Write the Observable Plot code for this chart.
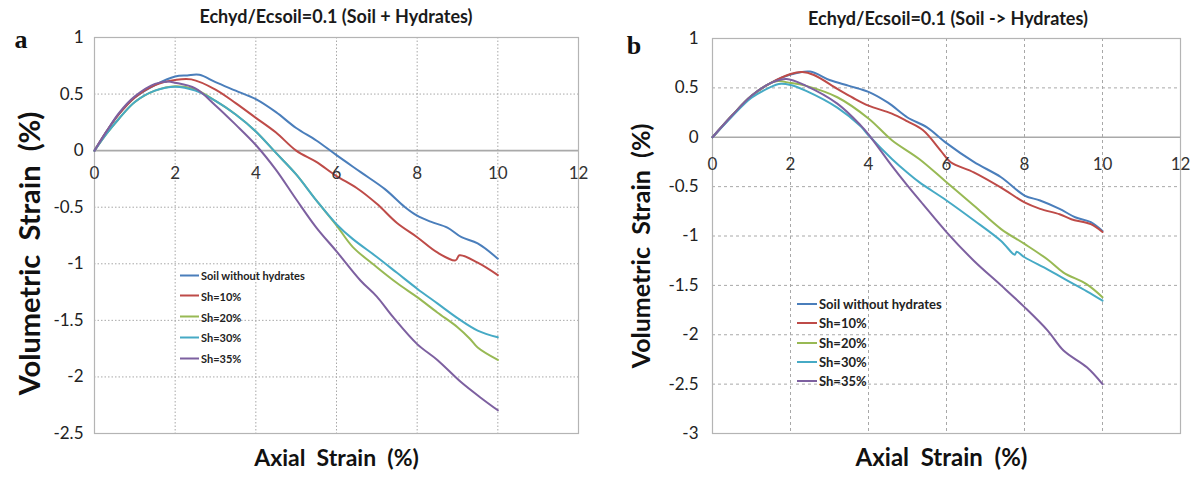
<!DOCTYPE html>
<html>
<head>
<meta charset="utf-8">
<script src="https://cdn.jsdelivr.net/npm/d3@7"></script>
<script src="https://cdn.jsdelivr.net/npm/@observablehq/plot@0.6"></script>
<style>
  body { margin: 0; background: #fff; font-family: Lato, "Open Sans", sans-serif; }
  #wrap { position: relative; width: 1197px; height: 480px; overflow: hidden; background: #fff; }
  .panel { position: absolute; top: 0; }
  .title { position: absolute; font-weight: bold; white-space: nowrap; transform: translate(-50%, -50%); color: #1a1a1a; }
  .tag { position: absolute; font-family: "Liberation Serif", "DejaVu Serif", serif; font-weight: bold; transform: translate(-50%, -50%); color: #111; }
  .legend { position: absolute; }
  .legend .row { position: absolute; left: 0; display: flex; align-items: center; white-space: nowrap; font-weight: bold; color: #222; transform: translateY(-50%); }
  .legend .sw { display: inline-block; height: 2px; margin-right: 2px; }
</style>
</head>
<body>
<div id="wrap"></div>
<script>
// ---------- data ----------
const seriesNames = ["Soil without hydrates", "Sh=10%", "Sh=20%", "Sh=30%", "Sh=35%"];
const seriesColors = ["#4A7EBB", "#BE4B48", "#98B954", "#46AAC5", "#7D60A0"];
const xTicks = [0, 2, 4, 6, 8, 10, 12];
const yTicksA = [-2.5, -2, -1.5, -1, -0.5, 0, 0.5, 1];
const yTicksB = [-3, -2.5, -2, -1.5, -1, -0.5, 0, 0.5, 1];

const titleA = "Echyd/Ecsoil=0.1 (Soil + Hydrates)";
const titleB = "Echyd/Ecsoil=0.1 (Soil -> Hydrates)";
const xLabel = "Axial\u00a0 Strain\u00a0 (%)";
const yLabel = "Volumetric\u00a0 Strain\u00a0 (%)";

// panel a : [axial strain %, volumetric strain %]
const aSoil = [[0,0],[0.3,0.17],[0.6,0.32],[1.0,0.47],[1.5,0.58],[2.0,0.655],[2.3,0.665],[2.6,0.67],[3.0,0.605],[3.5,0.53],[4.0,0.455],[4.5,0.34],[5.0,0.2],[5.5,0.09],[6.0,-0.04],[6.6,-0.19],[7.2,-0.34],[7.7,-0.5],[8.0,-0.575],[8.35,-0.63],[8.75,-0.68],[9.1,-0.765],[9.5,-0.82],[10,-0.955]];
const aSh10 = [[0,0],[0.3,0.17],[0.6,0.32],[1.0,0.47],[1.5,0.58],[2.0,0.625],[2.4,0.63],[3.0,0.54],[3.5,0.42],[4.0,0.29],[4.5,0.16],[5.0,0.0],[5.5,-0.1],[6.0,-0.225],[6.5,-0.33],[7.0,-0.47],[7.5,-0.64],[8.0,-0.765],[8.5,-0.9],[8.95,-0.97],[9.05,-0.925],[9.5,-0.99],[10,-1.1]];
const aSh20 = [[0,0],[0.3,0.15],[0.6,0.28],[1.0,0.43],[1.5,0.53],[2.0,0.57],[2.5,0.54],[3.0,0.44],[3.5,0.32],[4.0,0.17],[4.5,-0.02],[5.0,-0.21],[5.5,-0.44],[6.0,-0.66],[6.4,-0.85],[7.0,-1.03],[7.5,-1.17],[8.0,-1.295],[8.5,-1.43],[9.0,-1.56],[9.3,-1.66],[9.5,-1.74],[10,-1.85]];
const aSh30 = [[0,0],[0.3,0.15],[0.6,0.28],[1.0,0.43],[1.5,0.53],[2.0,0.565],[2.5,0.53],[3.0,0.44],[3.5,0.32],[4.0,0.17],[4.5,-0.02],[5.0,-0.21],[5.5,-0.44],[6.0,-0.65],[6.4,-0.78],[7.0,-0.94],[7.5,-1.08],[8.0,-1.22],[8.5,-1.35],[9.0,-1.48],[9.5,-1.59],[10,-1.65]];
const aSh35 = [[0,0],[0.3,0.17],[0.6,0.33],[1.0,0.48],[1.5,0.59],[1.8,0.61],[2.0,0.6],[2.5,0.55],[3.0,0.4],[3.5,0.23],[4.0,0.05],[4.5,-0.17],[5.0,-0.43],[5.5,-0.68],[6.0,-0.89],[6.6,-1.15],[7.0,-1.29],[7.4,-1.47],[8.0,-1.71],[8.5,-1.85],[9.1,-2.05],[9.6,-2.19],[10,-2.295]];

// panel b
const bSoil = [[0,0],[0.5,0.22],[1.0,0.42],[1.5,0.55],[2.0,0.635],[2.5,0.665],[3.0,0.58],[3.5,0.52],[4.0,0.46],[4.5,0.35],[5.0,0.2],[5.5,0.1],[6.0,-0.06],[6.7,-0.25],[7.4,-0.405],[8.0,-0.59],[8.4,-0.64],[8.9,-0.725],[9.3,-0.81],[9.7,-0.86],[10,-0.95]];
const bSh10 = [[0,0],[0.5,0.22],[1.0,0.42],[1.5,0.55],[2.0,0.64],[2.3,0.66],[2.6,0.63],[3.2,0.49],[3.6,0.4],[4.0,0.32],[4.6,0.24],[5.0,0.16],[5.4,0.07],[5.85,-0.135],[6.1,-0.25],[6.7,-0.355],[7.4,-0.51],[8.0,-0.66],[8.4,-0.725],[8.9,-0.78],[9.2,-0.83],[9.7,-0.88],[10,-0.96]];
const bSh20 = [[0,0],[0.5,0.22],[1.0,0.42],[1.6,0.565],[2.0,0.55],[2.4,0.52],[3.2,0.405],[4.0,0.19],[4.6,-0.03],[5.3,-0.22],[6.0,-0.455],[6.7,-0.69],[7.4,-0.93],[8.0,-1.08],[8.6,-1.24],[9.0,-1.37],[9.6,-1.49],[10,-1.62]];
const bSh30 = [[0,0],[0.5,0.21],[1.0,0.4],[1.5,0.51],[1.7,0.54],[2.0,0.53],[2.4,0.47],[3.2,0.3],[3.8,0.11],[4.0,0.02],[4.6,-0.22],[5.0,-0.36],[5.3,-0.455],[6.0,-0.64],[6.7,-0.84],[7.4,-1.05],[7.75,-1.19],[7.8,-1.16],[8.0,-1.215],[8.6,-1.34],[9.0,-1.43],[9.6,-1.56],[10,-1.655]];
const bSh35 = [[0,0],[0.5,0.22],[1.0,0.42],[1.5,0.55],[1.9,0.59],[2.4,0.52],[3.2,0.34],[3.8,0.12],[4.0,0.03],[4.6,-0.29],[5.0,-0.49],[5.4,-0.68],[6.0,-0.96],[6.7,-1.25],[7.4,-1.5],[8.0,-1.72],[8.6,-1.96],[9.0,-2.16],[9.6,-2.33],[10,-2.5]];

// ---------- build ----------
function rows(list) {
  return list.flatMap((pts, i) => pts.map(([x, y]) => ({x, y, s: seriesNames[i]})));
}

function panel(o) {
  return Plot.plot({
    width: o.width, height: 480,
    marginLeft: o.ml, marginRight: o.mr, marginTop: o.mt, marginBottom: o.mb,
    x: {domain: [0, 12], axis: null},
    y: {domain: o.yDomain, axis: null},
    color: {domain: seriesNames, range: seriesColors},
    style: {fontFamily: "Lato, sans-serif", background: "white", overflow: "visible"},
    marks: [
      Plot.gridX(xTicks.filter(d => d > 0 && d < 12), {stroke: "#a8a8a8", strokeOpacity: 1, strokeDasharray: o.dash, strokeWidth: 1}),
      Plot.gridY(o.yTicks.filter(d => d !== 0 && d !== o.yDomain[0] && d !== o.yDomain[1]), {stroke: "#a8a8a8", strokeOpacity: 1, strokeDasharray: o.dash, strokeWidth: 1}),
      Plot.frame({stroke: "#b4b4b4", strokeWidth: 1.2}),
      Plot.ruleY([0], {stroke: "#a9a9a9", strokeWidth: 1.6}),
      Plot.line(rows(o.series), {x: "x", y: "y", z: "s", stroke: "s", strokeWidth: 2, curve: "catmull-rom"}),
      Plot.text(xTicks, {x: d => d, y: () => 0, dy: o.xTickDy, fontSize: o.tickSize, fill: "#333"}),
      Plot.axisY(o.yTicks, {tickSize: 0, tickPadding: o.yPad, fontSize: o.tickSize, fill: "#222", tickFormat: d => String(d), label: null}),
      Plot.text([yLabel], {frameAnchor: "left", textAnchor: "middle", dx: o.yLabDx, dy: o.yLabDy, rotate: -90, fontSize: o.yLabSize, fontWeight: "bold", fill: "#111"}),
      Plot.text([xLabel], {frameAnchor: "bottom", textAnchor: "middle", dx: o.xLabDx, dy: 32, fontSize: o.xLabSize, fontWeight: "bold", fill: "#111"})
    ]
  });
}

const wrap = document.getElementById("wrap");

function place(el, left) {
  const d = document.createElement("div");
  d.className = "panel";
  d.style.left = left + "px";
  d.appendChild(el);
  wrap.appendChild(d);
}

place(panel({
  width: 597, ml: 94, mr: 19, mt: 37, mb: 47,
  yDomain: [-2.5, 1], yTicks: yTicksA, dash: "1.5,2",
  series: [aSoil, aSh10, aSh20, aSh30, aSh35],
  xTickDy: 23, tickSize: 17, yPad: 11,
  yLabDx: -64, yLabDy: 18, yLabSize: 29, xLabDx: 0, xLabSize: 23
}), 0);

place(panel({
  width: 600, ml: 115, mr: 17, mt: 38, mb: 47,
  yDomain: [-3, 1], yTicks: yTicksB, dash: "3,3",
  series: [bSoil, bSh10, bSh20, bSh30, bSh35],
  xTickDy: 27, tickSize: 17, yPad: 14,
  yLabDx: -71, yLabDy: 10, yLabSize: 25, xLabDx: -5, xLabSize: 24
}), 597);

function addText(cls, text, x, y, size) {
  const d = document.createElement("div");
  d.className = cls;
  d.textContent = text;
  d.style.left = x + "px";
  d.style.top = y + "px";
  d.style.fontSize = size + "px";
  wrap.appendChild(d);
}
addText("title", titleA, 336, 16, 18);
addText("title", titleB, 948, 18, 18);
addText("tag", "a", 21, 40, 26);
addText("tag", "b", 634, 46, 26);

function legend(left, top, gap, lineW, size) {
  const lg = document.createElement("div");
  lg.className = "legend";
  lg.style.left = left + "px";
  lg.style.top = top + "px";
  seriesNames.forEach((name, i) => {
    const r = document.createElement("div");
    r.className = "row";
    r.style.top = (i * gap) + "px";
    r.style.fontSize = size + "px";
    const sw = document.createElement("span");
    sw.className = "sw";
    sw.style.width = lineW + "px";
    sw.style.background = seriesColors[i];
    r.appendChild(sw);
    r.appendChild(document.createTextNode(name));
    lg.appendChild(r);
  });
  wrap.appendChild(lg);
}
legend(180, 275, 20.8, 19, 11);
legend(797, 304, 19.3, 20, 13);
</script>
</body>
</html>
